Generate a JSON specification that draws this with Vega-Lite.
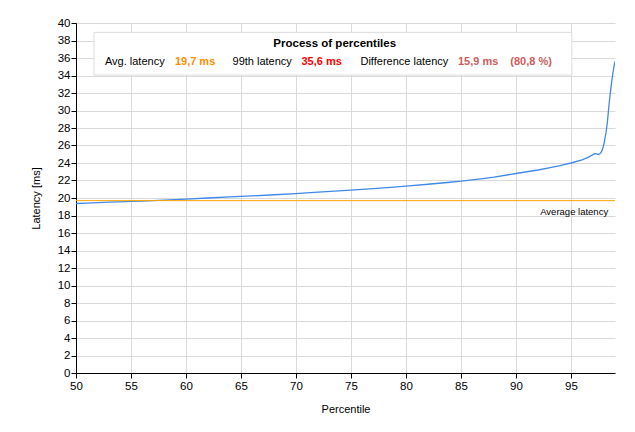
{
  "$schema": "https://vega.github.io/schema/vega-lite/v6.json",
  "width": 539,
  "height": 350,
  "autosize": {"type": "none"},
  "padding": {"left": 76, "top": 23, "right": 20, "bottom": 59},
  "background": "white",
  "config": {
    "font": "Liberation Sans",
    "view": {"stroke": null},
    "axis": {
      "domainColor": "black",
      "tickColor": "black",
      "gridColor": "#d9d9d9",
      "labelColor": "black",
      "titleColor": "black",
      "labelFont": "Liberation Sans",
      "titleFont": "Liberation Sans",
      "labelFontSize": 11.5,
      "titleFontSize": 11,
      "titleFontWeight": "normal",
      "tickSize": 5,
      "labelOverlap": false,
      "labelFlush": false
    }
  },
  "encoding": {
    "x": {"type": "quantitative", "title": "Percentile",
      "scale": {"domain": [50, 99], "nice": false, "zero": false},
      "axis": {"values": [50, 55, 60, 65, 70, 75, 80, 85, 90, 95], "labelPadding": 2, "titlePadding": 12}},
    "y": {"type": "quantitative", "title": "Latency [ms]",
      "scale": {"domain": [0, 40], "nice": false},
      "axis": {"values": [0,2,4,6,8,10,12,14,16,18,20,22,24,26,28,30,32,34,36,38,40], "labelPadding": 1, "titlePadding": 16}}
  },
  "layer": [
    {
      "data": {"values": [
        {"p": 50, "lat": 19.37}, {"p": 51, "lat": 19.42}, {"p": 52, "lat": 19.47}, {"p": 53, "lat": 19.52},
        {"p": 54, "lat": 19.56}, {"p": 55, "lat": 19.61}, {"p": 56, "lat": 19.65}, {"p": 57, "lat": 19.70},
        {"p": 58, "lat": 19.76}, {"p": 59, "lat": 19.82}, {"p": 60, "lat": 19.88}, {"p": 62, "lat": 20.0},
        {"p": 64, "lat": 20.12}, {"p": 66, "lat": 20.24}, {"p": 68, "lat": 20.37}, {"p": 70, "lat": 20.51},
        {"p": 72, "lat": 20.66}, {"p": 75, "lat": 20.89}, {"p": 78, "lat": 21.16}, {"p": 80, "lat": 21.35},
        {"p": 82, "lat": 21.57}, {"p": 84, "lat": 21.80}, {"p": 85, "lat": 21.92}, {"p": 87, "lat": 22.22},
        {"p": 88, "lat": 22.38}, {"p": 90, "lat": 22.8}, {"p": 91, "lat": 23.0}, {"p": 92, "lat": 23.2},
        {"p": 93, "lat": 23.44}, {"p": 94, "lat": 23.7}, {"p": 95, "lat": 24.0}, {"p": 96, "lat": 24.35},
        {"p": 96.5, "lat": 24.62}, {"p": 97, "lat": 24.95}, {"p": 97.15, "lat": 25.08}, {"p": 97.3, "lat": 25.05},
        {"p": 97.5, "lat": 24.98}, {"p": 97.7, "lat": 25.15}, {"p": 97.85, "lat": 25.5}, {"p": 98.0, "lat": 26.2},
        {"p": 98.1, "lat": 26.9}, {"p": 98.2, "lat": 27.6}, {"p": 98.3, "lat": 28.6}, {"p": 98.4, "lat": 29.9},
        {"p": 98.5, "lat": 31.2}, {"p": 98.6, "lat": 32.3}, {"p": 98.7, "lat": 33.3}, {"p": 98.8, "lat": 34.2},
        {"p": 98.9, "lat": 35.0}, {"p": 99, "lat": 35.6}
      ]},
      "mark": {"type": "line", "color": "#4189e8", "strokeWidth": 1.3, "clip": true},
      "encoding": {
        "x": {"field": "p"},
        "y": {"field": "lat"}
      }
    },
    {
      "data": {"values": [{"avg": 19.7}]},
      "mark": {"type": "rule", "color": "#FFA500", "strokeWidth": 1},
      "encoding": {"y": {"field": "avg"}, "x": null}
    },
    {
      "data": {"values": [{}]},
      "mark": {"type": "text", "text": "Average latency", "align": "left", "baseline": "middle", "fontSize": 9.5, "color": "black"},
      "encoding": {"x": {"datum": 92.2}, "y": {"datum": 18.35}}
    },
    {
      "data": {"values": [{}]},
      "mark": {"type": "rect", "fill": "white", "stroke": "#dcdcdc", "strokeWidth": 1},
      "encoding": {"x": {"datum": 51.63}, "x2": {"datum": 95.08}, "y": {"datum": 38.93}, "y2": {"datum": 34.05}}
    },
    {
      "data": {"values": [{}]},
      "mark": {"type": "text", "text": "Process of percentiles", "align": "center", "baseline": "middle", "fontSize": 11.5, "fontWeight": "bold", "color": "black"},
      "encoding": {"x": {"datum": 73.52}, "y": {"datum": 37.6}}
    },
    {
      "data": {"values": [{}]},
      "mark": {"type": "text", "text": "Avg. latency", "align": "left", "baseline": "middle", "fontSize": 11, "color": "black"},
      "encoding": {"x": {"datum": 52.63}, "y": {"datum": 35.5}}
    },
    {
      "data": {"values": [{}]},
      "mark": {"type": "text", "text": "19,7 ms", "align": "left", "baseline": "middle", "fontSize": 11, "fontWeight": "bold", "color": "#FF8C00"},
      "encoding": {"x": {"datum": 58.99}, "y": {"datum": 35.5}}
    },
    {
      "data": {"values": [{}]},
      "mark": {"type": "text", "text": "99th latency", "align": "left", "baseline": "middle", "fontSize": 11, "color": "black"},
      "encoding": {"x": {"datum": 64.23}, "y": {"datum": 35.5}}
    },
    {
      "data": {"values": [{}]},
      "mark": {"type": "text", "text": "35,6 ms", "align": "left", "baseline": "middle", "fontSize": 11, "fontWeight": "bold", "color": "#FF0000"},
      "encoding": {"x": {"datum": 70.5}, "y": {"datum": 35.5}}
    },
    {
      "data": {"values": [{}]},
      "mark": {"type": "text", "text": "Difference latency", "align": "left", "baseline": "middle", "fontSize": 11, "color": "black"},
      "encoding": {"x": {"datum": 75.86}, "y": {"datum": 35.5}}
    },
    {
      "data": {"values": [{}]},
      "mark": {"type": "text", "text": "15,9 ms", "align": "left", "baseline": "middle", "fontSize": 11, "fontWeight": "bold", "color": "#CD5C5C"},
      "encoding": {"x": {"datum": 84.72}, "y": {"datum": 35.5}}
    },
    {
      "data": {"values": [{}]},
      "mark": {"type": "text", "text": "(80,8 %)", "align": "left", "baseline": "middle", "fontSize": 11, "fontWeight": "bold", "color": "#CD5C5C"},
      "encoding": {"x": {"datum": 89.48}, "y": {"datum": 35.5}}
    }
  ]
}
